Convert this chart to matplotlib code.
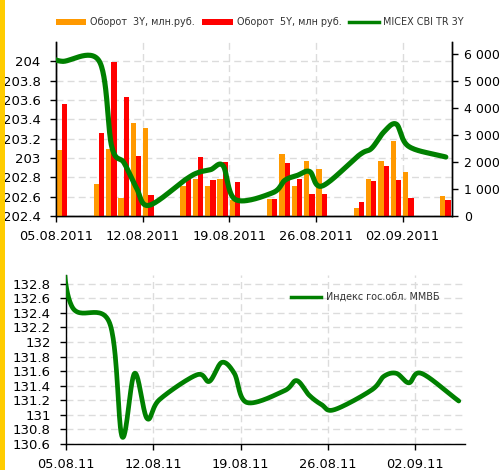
import matplotlib
matplotlib.use('Agg')
import matplotlib.pyplot as plt
import matplotlib.dates as mdates
from matplotlib.patches import Patch, Rectangle
from matplotlib.lines import Line2D
import numpy as np
from datetime import datetime

# ---------------- data ----------------
bar_dates = ['2011-08-05', '2011-08-08', '2011-08-09', '2011-08-10', '2011-08-11', '2011-08-12',
             '2011-08-15', '2011-08-16', '2011-08-17', '2011-08-18', '2011-08-19',
             '2011-08-22', '2011-08-23', '2011-08-24', '2011-08-25', '2011-08-26',
             '2011-08-29', '2011-08-30', '2011-08-31', '2011-09-01', '2011-09-02',
             '2011-09-05']
vol_3y = [2440, 1170, 2480, 655, 3460, 3260, 1130, 1375, 1130, 1370, 600,
          640, 2290, 1130, 2050, 1735, 285, 1370, 2050, 2780, 1620, 735]
vol_5y = [4150, 3060, 5710, 4425, 2220, 775, 1440, 2180, 1330, 2010, 1260,
          640, 1970, 1370, 812, 812, 530, 1300, 1855, 1330, 655, 575]

line_dates = ['2011-08-04', '2011-08-05', '2011-08-08', '2011-08-09', '2011-08-10', '2011-08-11',
              '2011-08-12', '2011-08-15', '2011-08-16', '2011-08-17', '2011-08-18', '2011-08-19',
              '2011-08-22', '2011-08-23', '2011-08-24', '2011-08-25', '2011-08-26',
              '2011-08-29', '2011-08-30', '2011-08-31', '2011-09-01', '2011-09-02',
              '2011-09-05']
micex_cbi = [204.05, 204.00, 204.00, 203.12, 202.95, 202.69, 202.51, 202.78, 202.85, 202.88,
             202.92, 202.57, 202.64, 202.77, 202.82, 202.86, 202.71, 203.03, 203.10, 203.27,
             203.35, 203.12, 203.01]
mmvb = [133.5, 132.48, 132.26, 130.70, 131.57, 130.95, 131.21, 131.55, 131.46, 131.72,
        131.57, 131.17, 131.33, 131.47, 131.27, 131.14, 131.07, 131.34, 131.53, 131.57,
        131.44, 131.57, 131.19]

tick_dates = ['2011-08-05', '2011-08-12', '2011-08-19', '2011-08-26', '2011-09-02']
top_xlabels = ['05.08.2011', '12.08.2011', '19.08.2011', '26.08.2011', '02.09.2011']
bottom_xlabels = ['05.08.11', '12.08.11', '19.08.11', '26.08.11', '02.09.11']
top_left_ticks = [202.4, 202.6, 202.8, 203.0, 203.2, 203.4, 203.6, 203.8, 204.0]
top_right_ticks = [0, 1000, 2000, 3000, 4000, 5000, 6000]
bottom_ticks = [130.6, 130.8, 131.0, 131.2, 131.4, 131.6, 131.8, 132.0, 132.2, 132.4, 132.6, 132.8]

legend_top = ['Оборот  3Y, млн.руб.', 'Оборот  5Y, млн руб.', 'MICEX CBI TR 3Y']
legend_bottom = ['Индекс гос.обл. ММВБ']

# ---------------- helpers ----------------
def dnum(s):
    return mdates.date2num(datetime.strptime(s, '%Y-%m-%d'))

def catmull_rom(x, y, n=30):
    P = np.column_stack([x, y]).astype(float)
    P = np.vstack([2 * P[0] - P[1], P, 2 * P[-1] - P[-2]])
    out = []
    s = np.linspace(0, 1, n, endpoint=False)
    for i in range(1, len(P) - 2):
        p0, p1, p2, p3 = P[i - 1], P[i], P[i + 1], P[i + 2]
        c1 = p1 + (p2 - p0) / 6.0
        c2 = p2 - (p3 - p1) / 6.0
        for t in s:
            out.append((1 - t) ** 3 * p1 + 3 * (1 - t) ** 2 * t * c1
                       + 3 * (1 - t) * t ** 2 * c2 + t ** 3 * p2)
    out.append(P[-2])
    out = np.array(out)
    return out[:, 0], out[:, 1]

plt.rcParams['font.family'] = ['DejaVu Sans']

ORANGE = '#FF9900'
RED = '#FF0000'
GREEN = '#008000'
GRID = '#DCDCDC'

fig = plt.figure(figsize=(5.01, 4.70), dpi=100)
fig.patch.set_facecolor('white')
fig.patches.append(Rectangle((0, 0), 5 / 501, 1, transform=fig.transFigure,
                             facecolor='#FFCC00', edgecolor='none', zorder=0))

W, H = 501.0, 470.0
x0 = dnum('2011-08-05')
x1 = dnum('2011-09-06')
noon = 0.5

def style_axis(ax):
    ax.tick_params(axis='both', colors='black', labelcolor='black', length=4, width=1,
                   direction='out')
    ax.tick_params(axis='y', labelsize=9.5, pad=7)
    ax.tick_params(axis='x', labelsize=9.3, pad=6)

# ---------------- top chart ----------------
ax = fig.add_axes([56 / W, 1 - 216 / H, 396 / W, 174 / H])
ax2 = ax.twinx()
ax.set_zorder(0)
ax2.set_zorder(1)
ax2.patch.set_visible(False)

bd = np.array([dnum(d) for d in bar_dates])
bw = 0.42
ax2.bar(bd + 0.47 - bw / 2, vol_3y, width=bw, color=ORANGE, edgecolor='none', zorder=2)
ax2.bar(bd + 0.47 + bw / 2, vol_5y, width=bw, color=RED, edgecolor='none', zorder=2)

ld = np.array([dnum(d) for d in line_dates]) + noon
sx, sy = catmull_rom(ld, micex_cbi)
ax2.plot(sx, sy, color=GREEN, lw=3.7, solid_capstyle='round', transform=ax.transData, zorder=3)

ax.set_xlim(x0, x1)
ax2.set_xlim(x0, x1)
ax.set_ylim(202.4, 204.2)
ax2.set_ylim(0, 6450)

ax.set_xticks([dnum(d) for d in tick_dates])
ax.set_xticklabels(top_xlabels)
ax.set_yticks(top_left_ticks)
ax.set_yticklabels(['{:g}'.format(v) for v in top_left_ticks])
ax2.set_yticks(top_right_ticks)
ax2.set_yticklabels(['{:,}'.format(v).replace(',', ' ') for v in top_right_ticks])

ax.grid(True, color=GRID, linestyle=(0, (5, 3)), linewidth=1)
ax.set_axisbelow(True)
for a in (ax, ax2):
    a.spines['top'].set_visible(False)
    for s in ('left', 'right', 'bottom'):
        a.spines[s].set_color('black')
        a.spines[s].set_linewidth(1)
style_axis(ax)
style_axis(ax2)
ax2.tick_params(axis='y', pad=5, labelsize=9.0)

handles = [Patch(facecolor=ORANGE, edgecolor='none'),
           Patch(facecolor=RED, edgecolor='none'),
           Line2D([], [], color=GREEN, lw=2.5)]
fig.legend(handles, legend_top, loc='center left', bbox_to_anchor=(56 / W, 1 - 22 / H),
           ncol=3, frameon=False, fontsize=6.9, handlelength=3.15, handleheight=0.6,
           handletextpad=0.45, columnspacing=0.75, borderpad=0, borderaxespad=0,
           labelcolor='#333333')

# ---------------- bottom chart ----------------
bx = fig.add_axes([66 / W, 1 - 444 / H, 399 / W, 169 / H])
sx2, sy2 = catmull_rom(ld, mmvb)
bx.plot(sx2, sy2, color=GREEN, lw=3.4, solid_capstyle='round', zorder=3)
bx.set_xlim(x0, x1)
bx.set_ylim(130.6, 132.92)
bx.set_xticks([dnum(d) for d in tick_dates])
bx.set_xticklabels(bottom_xlabels)
bx.set_yticks(bottom_ticks)
bx.set_yticklabels(['{:g}'.format(v) for v in bottom_ticks])
bx.grid(True, color=GRID, linestyle=(0, (5, 3)), linewidth=1)
bx.set_axisbelow(True)
bx.spines['top'].set_visible(False)
bx.spines['right'].set_visible(False)
for s in ('left', 'bottom'):
    bx.spines[s].set_color('black')
    bx.spines[s].set_linewidth(1)
style_axis(bx)
bx.tick_params(axis='x', pad=6)

bx.legend([Line2D([], [], color=GREEN, lw=2.5)], legend_bottom, loc='center left',
          bbox_to_anchor=(291 / W, 1 - 297 / H), bbox_transform=fig.transFigure,
          frameon=False, fontsize=6.9, handlelength=3.15, handletextpad=0.45,
          borderpad=0, borderaxespad=0, labelcolor='#333333')

fig.savefig('out.png', dpi=100, facecolor='white')
